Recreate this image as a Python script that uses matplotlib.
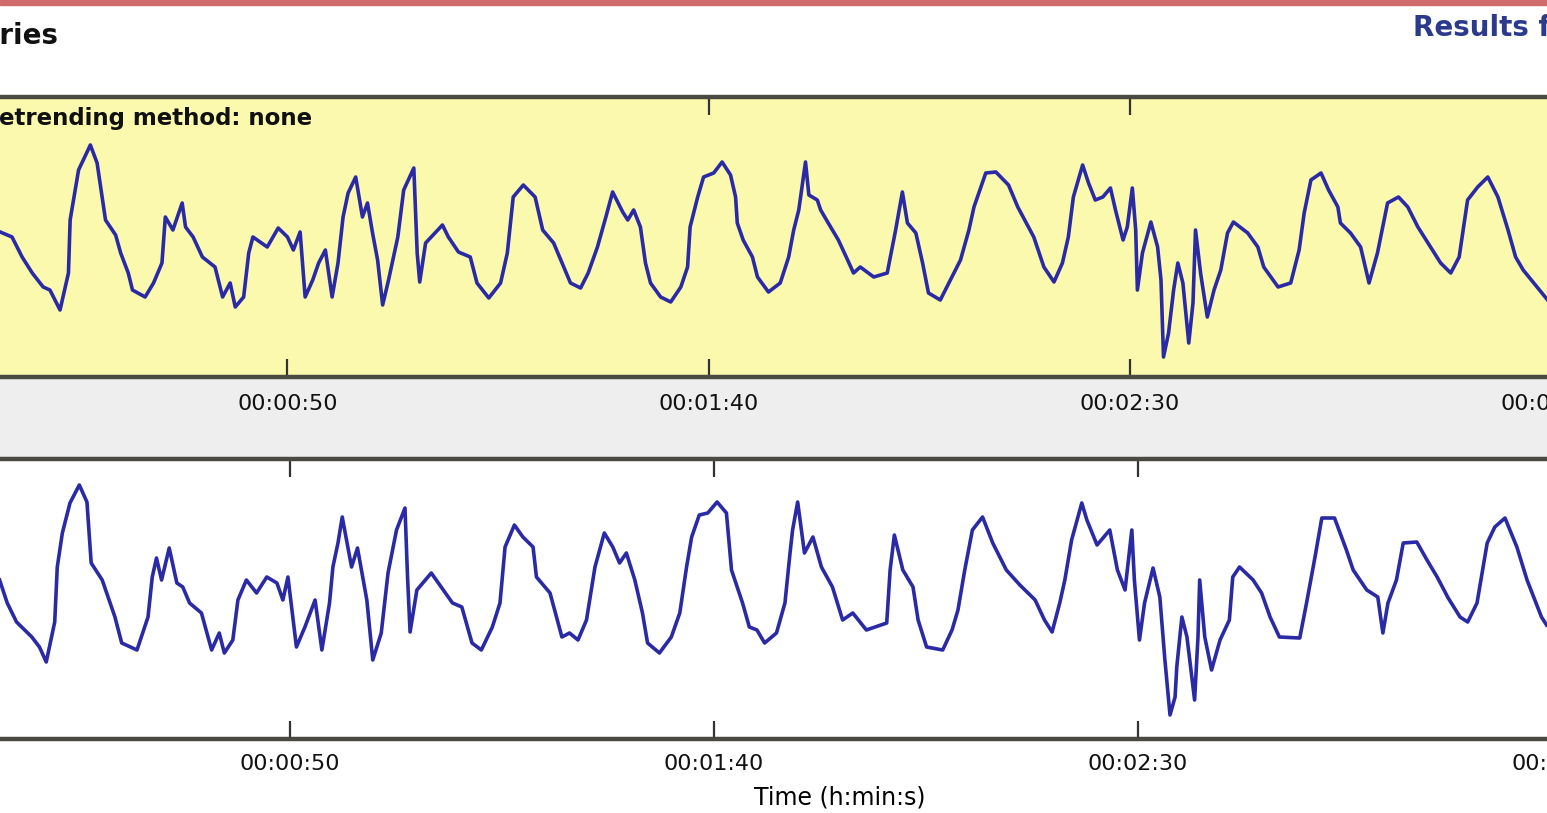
import numpy as np
import matplotlib.pyplot as plt
from matplotlib.ticker import MultipleLocator, FuncFormatter
from matplotlib.patches import Rectangle

# RR series: time (s) and RR interval (ms)
t_top = [15.9, 17.3, 18.5, 19.7, 21.0, 21.8, 23.0, 24.0, 24.2, 25.2, 26.6, 27.4, 28.4, 29.6,
         30.2, 31.1, 31.6, 33.1, 34.1, 35.1, 35.5, 36.4, 37.5, 37.9, 38.8, 39.9, 41.4, 42.3,
         43.2, 43.8, 44.8, 45.4, 45.9, 47.6, 48.9, 50.0, 50.7, 51.5, 52.1, 53.0, 53.7, 54.5,
         55.3, 56.0, 56.6, 57.2, 58.1, 58.9, 59.5, 60.1, 60.7, 61.3, 62.0, 63.1, 63.8, 65.0,
         65.4, 65.7, 66.4, 68.4, 69.1, 70.3, 71.7, 72.5, 73.9, 75.3, 76.1, 76.8, 78.0, 79.4,
         80.3, 81.6, 82.8, 83.6, 84.8, 85.7, 86.8, 87.8, 88.6, 89.8, 90.4, 91.1, 91.9, 92.5,
         93.1, 94.3, 95.5, 96.7, 97.5, 97.8, 98.7, 99.4, 100.6, 101.6, 102.6, 103.2, 103.4,
         104.1, 105.2, 105.8, 107.1, 108.5, 109.5, 110.1, 110.7, 111.5, 111.9, 112.9, 113.3,
         114.2, 115.4, 116.5, 117.2, 118.0, 119.6, 121.2, 122.2, 123.0, 123.6, 124.6, 125.4,
         126.1, 127.5, 128.7, 129.9, 130.9, 131.5, 132.9, 134.1, 135.6, 136.7, 138.6, 139.8,
         141.0, 142.0, 142.7, 143.3, 144.4, 145.1, 145.9, 146.8, 147.7, 148.3, 149.2, 149.7,
         150.3, 150.7, 150.9, 151.5, 152.5, 153.3, 153.7, 154.0, 154.6, 155.2, 155.7, 156.3,
         157.0, 157.5, 157.8, 158.4, 159.2, 160.0, 160.8, 161.6, 162.3, 164.0, 165.2, 165.9,
         167.6, 169.1, 170.1, 170.7, 171.5, 172.7, 173.6, 174.7, 175.0, 176.2, 177.4, 178.4,
         179.4, 180.6, 181.9, 183.0, 184.2, 185.7, 186.9, 188.1, 189.1, 190.1, 191.3, 192.5,
         193.7, 194.9, 195.8, 196.7, 199.6]
rr_top = [765, 760, 740, 724, 710, 707, 687, 724, 777, 827, 852, 834, 777, 762,
          744, 724, 707, 700, 714, 734, 780, 767, 794, 770, 760, 740, 730, 700,
          714, 690, 700, 744, 760, 750, 769, 760, 747, 765, 700, 717, 734, 747,
          700, 734, 780, 804, 820, 780, 794, 764, 737, 692, 717, 760, 807, 829,
          744, 715, 754, 772, 760, 745, 740, 714, 699, 714, 744, 800, 812, 800,
          767, 754, 730, 714, 709, 724, 750, 780, 805, 785, 777, 787, 770, 734,
          714, 700, 695, 710, 730, 770, 800, 820, 824, 835, 822, 800, 774,
          757, 740, 720, 705, 714, 740, 767, 787, 835, 802, 797, 787,
          774, 757, 737, 724, 730, 720, 724, 767, 805, 774, 764, 734,
          704, 697, 717, 737, 767, 790, 824, 825, 812, 790, 760, 730,
          715, 734, 760, 800, 832, 814, 797, 800, 809, 787, 757, 770,
          809, 767, 707, 744, 775, 750, 717, 640, 664, 707, 734, 714,
          654, 694, 767, 724, 680, 707, 727, 764, 775, 764, 750, 730,
          710, 714, 747, 784, 817, 824, 807, 790, 774, 764, 750, 714,
          744, 794, 800, 790, 770, 750, 734, 724, 740, 797, 810, 820,
          800, 767, 740, 727, 697]

t_bot = [15.8, 16.7, 17.8, 19.6, 20.5, 21.3, 22.3, 22.6, 23.2, 24.1, 25.2, 26.1, 26.6, 27.9,
         29.4, 30.2, 32.0, 33.3, 33.8, 34.3, 34.9, 35.8, 36.7, 37.4, 38.2, 39.6, 40.8, 41.7,
         42.3, 43.3, 43.9, 44.9, 46.1, 47.3, 48.5, 49.2, 49.8, 50.8, 51.8, 53.0, 53.8, 54.7,
         55.1, 55.7, 56.2, 57.3, 58.0, 59.1, 59.8, 60.8, 61.6, 62.6, 63.6, 63.9, 64.2, 65.0,
         66.7, 67.7, 69.2, 70.3, 71.5, 72.6, 73.9, 74.8, 75.4, 76.5, 77.5, 78.7, 79.1, 80.7,
         82.1, 83.0, 84.0, 85.0, 86.0, 87.1, 88.1, 88.9, 89.7, 90.7, 91.6, 92.2, 93.6, 95.0,
         96.0, 96.8, 97.4, 98.3, 99.3, 100.4, 101.5, 102.1, 103.4, 104.2, 105.1, 106.0, 107.4,
         108.4, 109.0, 109.3, 109.9, 110.7, 111.7, 112.7, 114.0, 115.2, 116.4, 118.0, 120.4,
         120.8, 121.3, 122.3, 123.5, 124.1, 125.1, 127.0, 128.1, 128.8, 129.6, 130.5, 131.7,
         132.9, 134.5, 136.1, 137.9, 139.0, 139.9, 140.8, 141.4, 142.2, 143.4, 144.0, 145.2,
         146.7, 147.6, 148.5, 149.3, 149.6, 150.2, 150.8, 151.8, 152.6, 153.2, 153.8, 154.4,
         154.6, 155.2, 155.8, 156.7, 157.1, 157.3, 157.9, 158.7, 159.7, 160.8, 161.2, 162.0,
         163.6, 164.6, 165.6, 166.7, 169.1, 169.9, 170.9, 171.7, 173.2, 174.6, 175.4, 177.0,
         178.3, 178.9, 179.5, 180.5, 181.3, 182.9, 184.1, 185.3, 186.6, 188.0, 188.9, 190.0,
         191.2, 192.1, 193.3, 194.7, 195.9, 197.6, 198.2]
rr_bot = [779, 756, 737, 722, 712, 697, 737, 792, 826, 856, 874, 857, 796, 779,
          742, 716, 709, 742, 782, 801, 779, 811, 776, 772, 756, 746, 709, 726,
          706, 719, 759, 779, 766, 782, 776, 759, 782, 712, 732, 759, 709, 756,
          792, 816, 842, 792, 811, 759, 699, 726, 786, 829, 851, 782, 727, 769,
          786, 774, 756, 752, 716, 709, 732, 756, 812, 834, 822, 812, 782, 766,
          722, 726, 719, 739, 792, 826, 812, 796, 806, 779, 746, 716, 706, 722,
          746, 792, 822, 844, 846, 857, 846, 789, 756, 732, 729, 716, 726,
          756, 806, 829, 857, 806, 822, 792, 772, 739, 746, 729, 736,
          789, 824, 789, 772, 739, 712, 709, 729, 749, 789, 829, 842,
          816, 789, 774, 759, 739, 727, 756, 779, 819, 856, 839, 814,
          829, 789, 769, 829, 779, 719, 756, 791, 762, 699, 644, 662,
          692, 742, 722, 659, 722, 779, 722, 689, 719, 739, 782, 792,
          779, 766, 742, 722, 721, 756, 802, 841, 841, 809, 789, 769,
          762, 726, 756, 779, 816, 817, 799, 782, 761, 742, 737, 756,
          816, 832, 841, 812, 779, 742, 734]


def hms(x, pos):
    s = int(round(x))
    return f"{s // 3600:02d}:{(s // 60) % 60:02d}:{s % 60:02d}"


W, H = 1547, 813
fig = plt.figure(figsize=(W / 100, H / 100), dpi=100)

def fx(px):
    return px / W

def fy(py):
    return 1 - py / H

# window decorations (red title strip, grey band between the panels)
fig.add_artist(Rectangle((0, fy(5)), 1, 5 / H, transform=fig.transFigure,
                         color='#cf6b6b', zorder=-1))
fig.add_artist(Rectangle((0, fy(457)), 1, (457 - 377) / H, transform=fig.transFigure,
                         color='#eeeeee', zorder=-1))

# panels run past both edges of the screenshot
ax1 = fig.add_axes([-0.02, fy(377), 1.04, 280 / H])
ax2 = fig.add_axes([-0.02, fy(739), 1.04, 280 / H])

ax1.set_facecolor('#fbf9ae')
ax1.plot(t_top, rr_top, color='#2a2aa6', lw=2.6)
ax1.set_xlim(12.2, 203.2)
ax1.set_ylim(620, 900)

ax2.plot(t_bot, rr_bot, color='#2a2aa6', lw=2.6)
ax2.set_xlim(12.2, 201.9)
ax2.set_ylim(620, 900)

for ax, pad in [(ax1, 12), (ax2, 11)]:
    ax.xaxis.set_major_locator(MultipleLocator(50))
    ax.xaxis.set_major_formatter(FuncFormatter(hms))
    ax.tick_params(axis='x', direction='in', length=13, width=1.6, top=True,
                   bottom=True, labelsize=16, pad=pad, color='#333333',
                   labelcolor='#111111')
    ax.set_yticks([])
    for side in ['left', 'right']:
        ax.spines[side].set_visible(False)
    for side in ['top', 'bottom']:
        ax.spines[side].set_linewidth(3.2)
        ax.spines[side].set_color('#4a4a42')

ax2.set_xlabel('Time (h:min:s)', fontsize=17)
ax2.xaxis.set_label_coords(0.541, -0.165)

fig.text(fx(58), fy(36), 'RR Series', ha='right', va='center', fontsize=20,
         weight='bold', color='#111111')
fig.text(fx(1413), fy(28), 'Results for', ha='left', va='center', fontsize=20,
         weight='bold', color='#2b3a8c')
# label box hides the tick under it but stays below the frame
ax1.text(fx(312), fy(118), 'Detrending method: none', ha='right', va='center',
         transform=fig.transFigure, fontsize=16.5, weight='bold', color='#111111',
         zorder=2.2, bbox=dict(facecolor='#fbf9ae', edgecolor='none', pad=6))

fig.savefig('out.png', dpi=100)
